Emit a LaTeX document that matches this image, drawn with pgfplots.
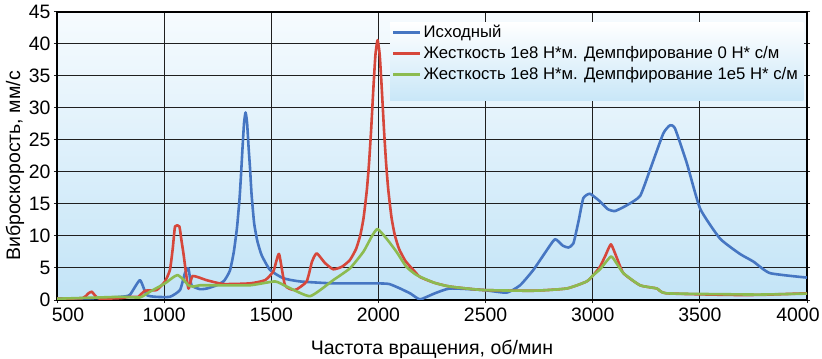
\documentclass[border=0pt]{standalone}
\usepackage{fontspec}
\setmainfont{Liberation Sans}
\usepackage{pgfplots}
\pgfplotsset{compat=1.18}
\definecolor{cBlue}{HTML}{4676C2}
\definecolor{cRed}{HTML}{D6473B}
\definecolor{cGreen}{HTML}{8CBB50}
\definecolor{bgTop}{HTML}{F6FBFE}
\definecolor{bgBot}{HTML}{C3E4F7}
\begin{document}
\begin{tikzpicture}
\begin{axis}[
  at={(0,0)}, anchor=south west,
  scale only axis, width=750bp, height=288bp,
  xmin=500, xmax=4000, ymin=0, ymax=45,
  xtick={500,1000,...,4000}, ytick={0,5,...,45},
  xticklabels={\hspace*{22bp}500,1000,1500,2000,2500,3000,3500,4000\hspace*{18bp}},
  /pgf/number format/assume math mode=true,
  /pgf/number format/1000 sep={},
  tick label style={font=\fontsize{19.5}{21}\selectfont},
  xticklabel style={yshift=-1bp},
  grid=major,
  major grid style={black!88, line width=1bp},
  tick style={black!88, line width=1bp},
  tick align=outside, major tick length=3bp,
  xtick pos=bottom, ytick pos=both,
  axis line style={black, line width=1.3bp},
  axis background/.style={top color=bgTop, bottom color=bgBot},
  xlabel={Частота вращения, об/мин},
  ylabel={Виброскорость, мм/с},
  label style={font=\fontsize{19.6}{21}\selectfont},
  xlabel style={at={(axis description cs:0.5,0)}, anchor=base, yshift=-54bp},
  ylabel style={at={(axis description cs:-0.056,0.465)}, anchor=center},
  legend style={draw=none, fill=none, at={(rel axis cs:0.446,0.962)}, anchor=north west,
    font=\fontsize{16.8}{18}\selectfont, row sep=3.5bp, inner sep=0pt,
    cells={anchor=west}},
  legend image code/.code={\draw[#1, line width=3bp] (0bp,0bp) -- (27bp,0bp);},
  every axis plot/.append style={line width=2.6bp, line join=round, smooth, tension=0.3},
]
\fill[top color=white, bottom color=bgBot!90] (rel axis cs:0.444,0.965) rectangle (rel axis cs:0.995,0.694);
\addplot[cBlue] coordinates {
(500,0.2) (700,0.3) (800,0.5) (840,0.8) (887,3.1) (918,0.8) (960,0.5) (1027,0.5) (1074,1.56) (1097,4.2) (1113,4.95) (1128,2.3) (1167,1.7) (1200,1.8) (1245,2.3) (1280,3.0) (1307,4.6) (1325,7.5) (1340,11.3) (1352,15.9) (1359,19.7) (1366,23.9) (1373,27.7) (1380,29.3) (1387,27.7) (1394,23.9) (1401,20.5) (1408,16.5) (1420,12) (1435,9.2) (1455,7.0) (1494,4.7) (1556,3.4) (1634,2.9) (1789,2.6) (1992,2.6) (2050,2.5) (2101,1.8) (2150,1.0) (2194,0.1) (2260,1.0) (2334,1.8) (2489,1.56) (2598,1.15) (2661,2.3) (2723,4.7) (2780,7.5) (2824,9.5) (2860,8.5) (2886,8.2) (2910,8.85) (2935,12.5) (2956,15.9) (2987,16.6) (3034,15.4) (3070,14.2) (3104,13.9) (3159,14.8) (3221,16.25) (3267,20.3) (3329,26) (3361,27.3) (3384,26.8) (3439,21.4) (3501,14.3) (3594,9.6) (3687,7.2) (3750,6.0) (3827,4.2) (4000,3.5)
};
\addlegendentry{Исходный}
\addplot[cRed] coordinates {
(500,0.2) (620,0.3) (645,1.0) (662,1.3) (680,0.6) (700,0.2) (800,0.3) (840,0.5) (879,0.5) (911,1.45) (965,1.56) (1004,2.9) (1027,4.7) (1040,8) (1051,11.5) (1071,11.5) (1080,9.5) (1090,7.3) (1113,1.8) (1133,3.75) (1198,3.1) (1276,2.5) (1401,2.6) (1471,3.1) (1510,4.5) (1536,7.2) (1564,2.3) (1611,1.56) (1665,2.9) (1690,6) (1712,7.3) (1750,5.8) (1789,4.8) (1830,5.2) (1867,6.25) (1896,8.0) (1916,10.2) (1931,12.9) (1946,17.2) (1956,21.3) (1966,26.6) (1976,32.8) (1986,38.3) (1996,40.6) (2006,38.3) (2016,32.8) (2026,26.6) (2036,21.3) (2046,17.2) (2061,12.9) (2076,10.2) (2096,8.0) (2126,6.1) (2160,4.8) (2194,3.6) (2260,2.7) (2334,2.1) (2489,1.56) (2723,1.45) (2879,1.8) (2972,2.9) (3003,3.9) (3034,5.2) (3060,7.0) (3085,8.7) (3110,6.8) (3143,4.2) (3221,2.3) (3299,1.8) (3342,1.05) (3625,0.8) (3781,0.8) (4000,1.05)
};
\addlegendentry{Жесткость 1e8 Н*м. Демпфирование 0 Н* с/м}
\addplot[cGreen] coordinates {
(500,0.2) (700,0.4) (800,0.5) (887,0.4) (934,1.3) (1004,2.6) (1040,3.5) (1063,3.9) (1090,3.2) (1113,2.3) (1136,2.1) (1167,2.3) (1245,2.3) (1401,2.3) (1517,2.9) (1572,2.1) (1681,0.6) (1789,3.1) (1867,4.95) (1930,7.55) (1970,10) (1996,11.1) (2040,9.5) (2085,7.5) (2130,5.2) (2178,3.9) (2260,2.7) (2334,2.1) (2489,1.56) (2723,1.45) (2879,1.8) (2972,2.9) (3003,3.9) (3034,4.8) (3085,6.8) (3110,5.8) (3143,4.2) (3221,2.3) (3299,1.8) (3342,1.05) (3625,0.9) (3781,0.85) (4000,1.0)
};
\addlegendentry{Жесткость 1e8 Н*м. Демпфирование 1e5 Н* с/м}
\end{axis}
\pgfresetboundingbox
\path[use as bounding box] (-57bp,-59bp) rectangle (765bp,300bp);
\end{tikzpicture}
\end{document}
